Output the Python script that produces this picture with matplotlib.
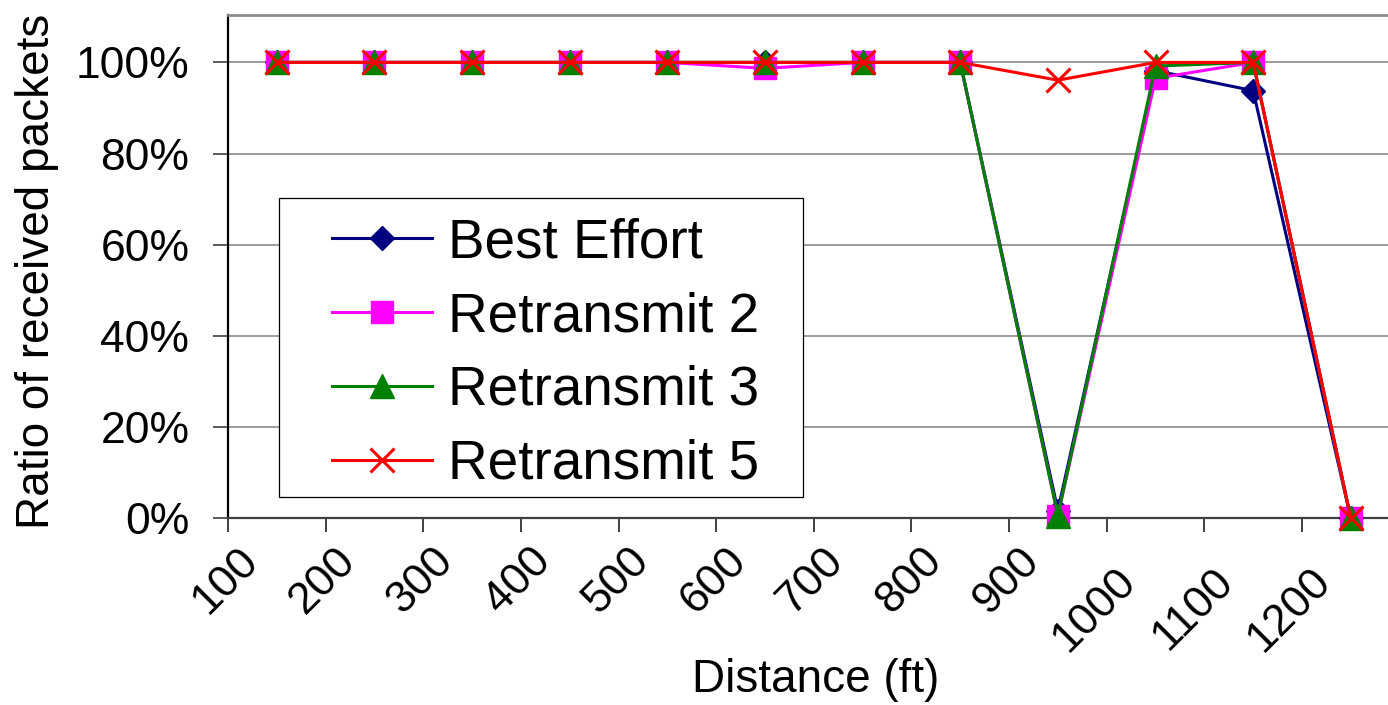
import numpy as np
import matplotlib
matplotlib.use("Agg")
import matplotlib.pyplot as plt
from matplotlib.patches import Rectangle

plt.rcParams['font.family'] = ['Liberation Sans', 'DejaVu Sans']

# ---- data -------------------------------------------------------------
distances = ["100", "200", "300", "400", "500", "600",
             "700", "800", "900", "1000", "1100", "1200"]
best_effort = [100, 100, 100, 100, 100, 100, 100, 100, 1.7, 98.2, 93.8, 0]
retransmit_2 = [100, 100, 100, 100, 100, 98.7, 100, 100, 0.6, 96.5, 100, 0]
retransmit_3 = [100, 100, 100, 100, 100, 100, 100, 100, 0.6, 99.2, 100, 0]
retransmit_5 = [100, 100, 100, 100, 100, 100, 100, 100, 96.1, 100, 100, 0]
series_names = ["Best Effort", "Retransmit 2", "Retransmit 3", "Retransmit 5"]
y_ticks = [0, 20, 40, 60, 80, 100]

# ---- figure -----------------------------------------------------------
W, H = 1388, 705
fig = plt.figure(figsize=(W / 100, H / 100), dpi=100)
px = 72 / 100  # points per pixel

left_px, bottom_px, top_px = 228, 518.3, 15
width_px = 1171.6
ax = fig.add_axes([left_px / W, (H - bottom_px) / H,
                   width_px / W, (bottom_px - top_px) / H])

x = np.arange(len(distances))
styles = [
    dict(color="#000080", marker="D", ms=12, mew=1),
    dict(color="#FF00FF", marker="s", ms=16, mew=1),
    dict(color="#008000", marker="^", ms=17, mew=1),
    dict(color="#FF0000", marker="x", ms=17, mew=2.2),
]
all_series = [best_effort, retransmit_2, retransmit_3, retransmit_5]
handles = []
for vals, name, st in zip(all_series, series_names, styles):
    ln, = ax.plot(x, vals, color=st["color"], lw=2.2, marker=st["marker"],
                  ms=st["ms"], mfc=st["color"], mec=st["color"], mew=st["mew"],
                  clip_on=False, zorder=3, label=name)
    handles.append(ln)

ax.set_xlim(-0.5, len(distances) - 0.5)
ax.set_ylim(0, 110.4)

# y axis
ax.set_yticks(y_ticks)
ax.set_yticklabels([f"{v}%" for v in y_ticks], fontsize=32)
ax.tick_params(axis="y", direction="out", length=15 * px, width=1.2,
               color="#404040", pad=17)
ax.yaxis.grid(True, color="#808080", lw=1.1)
ax.set_axisbelow(True)

# x axis: ticks on category boundaries, labels rotated under each category
ax.set_xticks(np.arange(-0.5, len(distances), 1.0))
ax.set_xticklabels([])
ax.tick_params(axis="x", direction="out", length=14 * px, width=1.2,
               color="#202020")
for xi, lab in zip(x, distances):
    long_label = len(lab) > 3
    dx = -26 if long_label else -25
    dy = -57 if long_label else -36
    ax.annotate(lab, xy=(xi, 0), xycoords=("data", "axes fraction"),
                xytext=(dx * px, dy * px), textcoords="offset points",
                rotation=45, rotation_mode="anchor", ha="right", va="center",
                fontsize=32, annotation_clip=False)

# spines
ax.spines["left"].set_color("black")
ax.spines["left"].set_linewidth(1.6)
ax.spines["bottom"].set_color("#404040")
ax.spines["bottom"].set_linewidth(1.6)
ax.spines["top"].set_color("#8c8c8c")
ax.spines["top"].set_linewidth(2.0)
ax.spines["right"].set_visible(False)

# axis titles
ax.set_xlabel("Distance (ft)", fontsize=33, va="center")
ax.xaxis.set_label_coords((816 - left_px) / width_px,
                          (bottom_px - 680) / (bottom_px - top_px))
ax.set_ylabel("Ratio of received packets", fontsize=33, va="center")
ax.yaxis.set_label_coords((37 - left_px) / width_px,
                          (bottom_px - 271) / (bottom_px - top_px))

# legend with a white framed box behind it
def ax_x(p):
    return (p - left_px) / width_px

def ax_y(p):
    return (bottom_px - p) / (bottom_px - top_px)

box = Rectangle((ax_x(279), ax_y(497)), ax_x(803) - ax_x(279),
                ax_y(198) - ax_y(497), transform=ax.transAxes,
                facecolor="white", edgecolor="black", lw=0.9, zorder=4)
ax.add_patch(box)
leg = ax.legend(handles=handles, loc="center left",
                bbox_to_anchor=(ax_x(332), ax_y(354)),
                frameon=False, borderpad=0, fontsize=39.5,
                handlelength=1.82, handletextpad=0.3, labelspacing=0.4,
                borderaxespad=0)
leg.set_zorder(5)

fig.savefig("out.png", dpi=100, facecolor="white")
